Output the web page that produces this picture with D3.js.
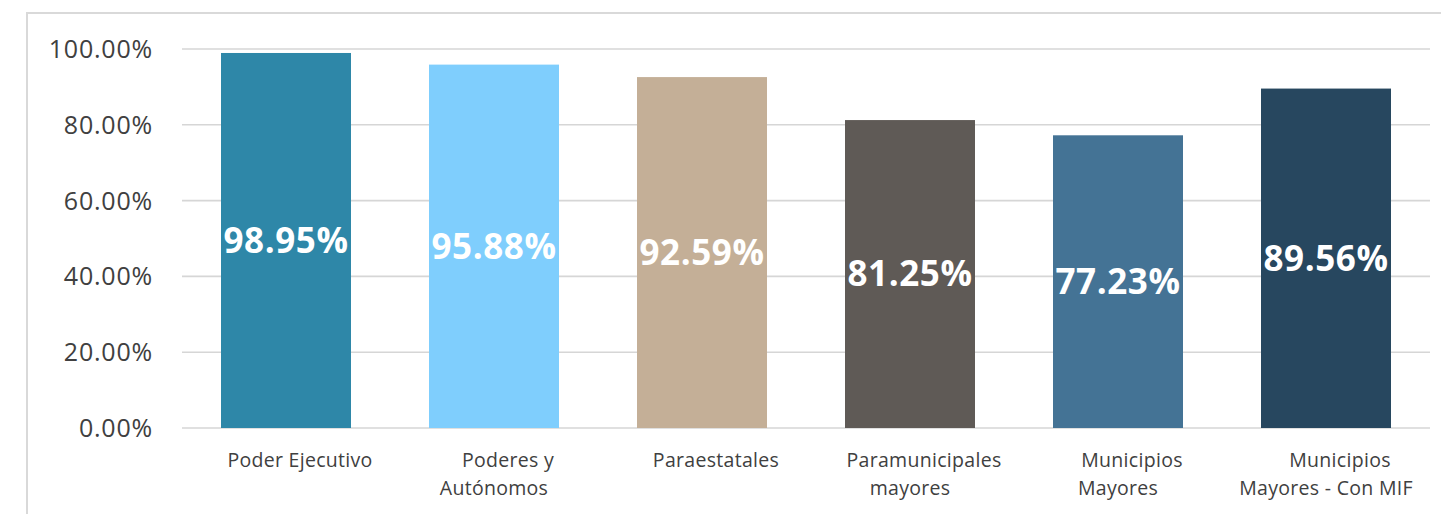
<!DOCTYPE html>
<html>
<head>
<meta charset="utf-8">
<script src="https://cdn.jsdelivr.net/npm/d3@7"></script>
<style>
  html, body { margin: 0; padding: 0; background: #fff; }
  svg { display: block; }
</style>
</head>
<body>
<svg id="chart" width="1441" height="514"></svg>
<script>
const categories = ["Poder Ejecutivo", "Poderes y Autónomos", "Paraestatales", "Paramunicipales mayores", "Municipios Mayores", "Municipios Mayores - Con MIF"];
const categoryLines = [["Poder Ejecutivo"], ["Poderes y", "Autónomos"], ["Paraestatales"], ["Paramunicipales", "mayores"], ["Municipios", "Mayores"], ["Municipios", "Mayores - Con MIF"]];
const values = [0.9895, 0.9588, 0.9259, 0.8125, 0.7723, 0.8956];
const colors = ["#2E87A8", "#7FCEFD", "#C4AF97", "#5F5A56", "#447395", "#27475F"];
const yTicks = [0, 0.2, 0.4, 0.6, 0.8, 1.0];

const svg = d3.select("#chart");

// outer frame
svg.append("rect")
  .attr("x", 27).attr("y", 13)
  .attr("width", 1460).attr("height", 560)
  .attr("fill", "none").attr("stroke", "#D9D9D9").attr("stroke-width", 2);

const x = d3.scaleBand().domain(categories).range([182, 1430]).paddingInner(0.375).paddingOuter(0.1875);
const y = d3.scaleLinear().domain([0, 1]).range([428, 49]);

// gridlines
svg.append("g")
  .selectAll("line").data(yTicks).join("line")
  .attr("x1", 182).attr("x2", 1430)
  .attr("y1", d => y(d)).attr("y2", d => y(d))
  .attr("stroke", "#D6D6D6").attr("stroke-width", 1.6);

// y axis labels
const yAxis = d3.axisLeft(y).tickValues(yTicks).tickFormat(d => d3.format(".2f")(d * 100) + "%").tickSize(0).tickPadding(0);
const ga = svg.append("g").attr("transform", "translate(153,0)").call(yAxis);
ga.select(".domain").remove();
ga.selectAll("text")
  .attr("font-family", "'Open Sans', sans-serif")
  .attr("font-size", 25)
  .attr("letter-spacing", 0.8)
  .attr("fill", "#404040")
  .attr("dy", "0.34em");

// bars
svg.append("g")
  .selectAll("rect").data(values).join("rect")
  .attr("x", (d, i) => x(categories[i]))
  .attr("y", d => y(d))
  .attr("width", x.bandwidth())
  .attr("height", d => y(0) - y(d))
  .attr("fill", (d, i) => colors[i]);

// value labels
svg.append("g")
  .selectAll("text").data(values).join("text")
  .attr("x", (d, i) => x(categories[i]) + x.bandwidth() / 2)
  .attr("y", d => (y(d) + y(0)) / 2)
  .attr("dy", "0.35em")
  .attr("text-anchor", "middle")
  .attr("font-family", "'Open Sans', sans-serif")
  .attr("font-weight", "bold")
  .attr("font-size", 35)
  .attr("letter-spacing", 0.6)
  .attr("fill", "#FFFFFF")
  .text(d => d3.format(".2f")(d * 100) + "%");

// category labels
const cg = svg.append("g");
categories.forEach((c, i) => {
  const cx = x(c) + x.bandwidth() / 2;
  const t = cg.append("text")
    .attr("text-anchor", "middle")
    .attr("font-family", "'Open Sans', sans-serif")
    .attr("font-size", 19.5)
    .attr("letter-spacing", 0.3)
    .attr("fill", "#404040");
  categoryLines[i].forEach((line, j) => {
    t.append("tspan")
      .attr("x", cx + (j === 0 ? 14 : 0))
      .attr("y", 467 + j * 28)
      .text(line);
  });
});
</script>
</body>
</html>
